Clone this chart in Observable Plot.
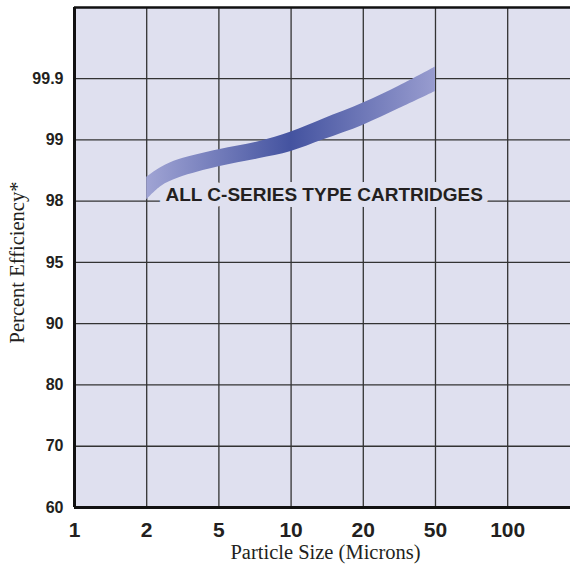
<!DOCTYPE html>
<html>
<head>
<meta charset="utf-8">
<script src="https://cdn.jsdelivr.net/npm/d3@7"></script>
<script src="https://cdn.jsdelivr.net/npm/@observablehq/plot@0.6"></script>
<style>
  html, body { margin: 0; padding: 0; background: #ffffff; }
</style>
</head>
<body>
<div id="chart"></div>
<script>
// Tick labels (grid positions are equally spaced, one per label)
const sizeLabels = ["1", "2", "5", "10", "20", "50", "100"];
const effLabels = ["60", "70", "80", "90", "95", "98", "99", "99.9"];

// Efficiency band, in grid units
// (x: 0 = 1 µm, 1 = 2 µm, ... ; y: 0 = 60%, 1 = 70%, ... 7 = 99.9%)
const bandPos  = [1.00, 1.20, 1.45, 2.00, 2.55, 3.00, 3.45, 4.00, 4.50, 5.00];
const bandHigh = [5.39, 5.55, 5.68, 5.84, 5.97, 6.13, 6.34, 6.60, 6.88, 7.19];
const bandLow  = [5.02, 5.24, 5.38, 5.56, 5.69, 5.81, 6.00, 6.24, 6.51, 6.79];

// Annotation
const annotation = ["ALL C-SERIES TYPE CARTRIDGES"];
const annotationX = [1.26];
const annotationY = [5];

const xMax = 6.87;
const yMax = 8.16;

const band = bandPos.map((x, i) => ({x, lo: bandLow[i], hi: bandHigh[i]}));
const bg = "#dfe0ef";
const ink = "#231f20";
const grid = "#333333";

const chart = Plot.plot({
  width: 570,
  height: 569,
  marginLeft: 74,
  marginRight: 0,
  marginTop: 7,
  marginBottom: 62,
  style: {background: "#ffffff", color: ink},
  x: {domain: [0, xMax]},
  y: {domain: [0, yMax]},
  marks: [
    Plot.frame({fill: bg, stroke: null}),
    Plot.ruleX(d3.range(1, sizeLabels.length), {stroke: grid, strokeWidth: 1.3}),
    Plot.ruleY(d3.range(1, effLabels.length), {stroke: grid, strokeWidth: 1.3}),
    Plot.text(annotation, {
      x: (d, i) => annotationX[i], y: (d, i) => annotationY[i], text: d => d,
      textAnchor: "start", lineAnchor: "bottom",
      fontFamily: "'Liberation Sans', Arial, sans-serif", fontWeight: "bold", fontSize: 19,
      fill: ink, stroke: bg, strokeWidth: 12, strokeLinejoin: "round"
    }),
    Plot.areaY(band, {x: "x", y1: "lo", y2: "hi", curve: "catmull-rom", fill: "url(#bandGrad)"}),
    Plot.ruleX([0], {stroke: "#111", strokeWidth: 3}),
    Plot.ruleY([0], {stroke: "#111", strokeWidth: 3}),
    Plot.ruleY([yMax], {stroke: "#111", strokeWidth: 2.6}),
    Plot.axisX({
      ticks: d3.range(sizeLabels.length), tickFormat: i => sizeLabels[i],
      tickSize: 0, tickPadding: 15, label: null,
      fontFamily: "'Liberation Sans', Arial, sans-serif", fontWeight: "bold", fontSize: 21
    }),
    Plot.axisY({
      ticks: d3.range(effLabels.length), tickFormat: i => effLabels[i],
      tickSize: 0, tickPadding: 11, label: null,
      fontFamily: "'Liberation Sans', Arial, sans-serif", fontWeight: "bold", fontSize: 16
    }),
    Plot.text(["Particle Size (Microns)"], {
      frameAnchor: "bottom", dx: 3, dy: 45, lineAnchor: "middle", textAnchor: "middle",
      fontFamily: "'Liberation Serif', 'Times New Roman', serif", fontSize: 20.5, fill: ink
    }),
    Plot.text(["Percent Efficiency*"], {
      frameAnchor: "left", dx: -57.5, dy: 5, rotate: -90, lineAnchor: "middle", textAnchor: "middle",
      fontFamily: "'Liberation Serif', 'Times New Roman', serif", fontSize: 20.5, fill: ink
    })
  ]
});

const defs = d3.select(chart).insert("defs", ":first-child");
const grad = defs.append("linearGradient").attr("id", "bandGrad")
  .attr("x1", "0").attr("x2", "1").attr("y1", "0").attr("y2", "0");
grad.append("stop").attr("offset", "0").attr("stop-color", "#a0a4d4");
grad.append("stop").attr("offset", "0.5").attr("stop-color", "#4453a0");
grad.append("stop").attr("offset", "1").attr("stop-color", "#989ccf");

document.getElementById("chart").appendChild(chart);
</script>
</body>
</html>
